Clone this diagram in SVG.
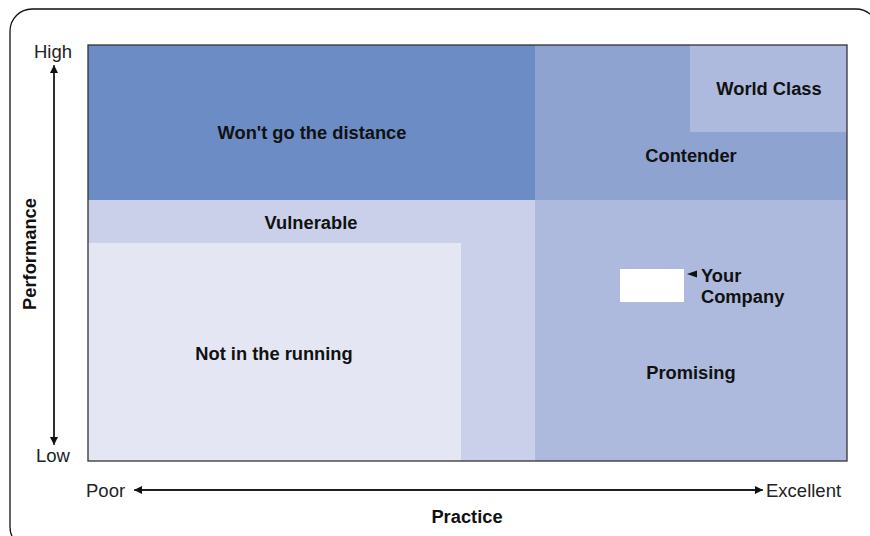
<svg xmlns="http://www.w3.org/2000/svg" width="870" height="536" viewBox="0 0 870 536">
<style>
.ax{font-family:"Liberation Sans",Arial,sans-serif;font-size:18.5px;fill:#222}
.lb{font-family:"Liberation Sans",Arial,sans-serif;font-size:18.3px;font-weight:bold;fill:#111}
.ln{stroke:#111;stroke-width:1.3;fill:none}
</style>
<defs>
<marker id="ah" viewBox="0 0 10 10" refX="10" refY="5" markerWidth="10" markerHeight="8" markerUnits="userSpaceOnUse" orient="auto">
<path d="M0,0 L10,5 L0,10 z" fill="#111"/>
</marker>
</defs>
<rect x="10" y="9" width="868" height="540" rx="22" fill="#fff" stroke="#111" stroke-width="1.3"/>
<g id="chart">
<rect x="88" y="45" width="759" height="416" fill="#CAD0E9"/>
<g id="wont"><rect x="88" y="45" width="447" height="155" fill="#6B8CC4"/><text class="lb" x="312" y="139" text-anchor="middle">Won't go the distance</text></g>
<g id="contender"><rect x="535" y="45" width="312" height="155" fill="#8FA3D0"/><text class="lb" x="691" y="162" text-anchor="middle">Contender</text></g>
<g id="worldclass"><rect x="690" y="45" width="157" height="87" fill="#ADBADD"/><text class="lb" x="769" y="95" text-anchor="middle">World Class</text></g>
<g id="vulnerable"><text class="lb" x="311" y="229" text-anchor="middle">Vulnerable</text></g>
<g id="notrunning"><rect x="88" y="243" width="373" height="218" fill="#E4E7F3"/><text class="lb" x="274" y="360" text-anchor="middle">Not in the running</text></g>
<g id="promising"><rect x="535" y="200" width="312" height="261" fill="#ADBADD"/><text class="lb" x="691" y="379" text-anchor="middle">Promising</text></g>
<g id="yourcompany"><rect x="620" y="269" width="64" height="33" fill="#fff"/><path d="M687,274 L697,270.5 L697,277.5 z" fill="#111"/><text class="lb" x="701" y="282">Your</text><text class="lb" x="701" y="303">Company</text></g>
<rect x="88" y="45" width="759" height="416" fill="none" stroke="#333" stroke-width="1.3"/>
</g>
<g id="connectors">
<line class="ln" x1="54" y1="443" x2="54" y2="65" marker-end="url(#ah)"/>
<line class="ln" x1="54" y1="70" x2="54" y2="445" marker-end="url(#ah)"/>
<line class="ln" x1="140" y1="490" x2="763" y2="490" marker-end="url(#ah)"/>
<line class="ln" x1="760" y1="490" x2="134" y2="490" marker-end="url(#ah)"/>
</g>
<g id="axislabels">
<text class="ax" x="53" y="58" text-anchor="middle">High</text>
<text class="ax" x="53" y="462" text-anchor="middle">Low</text>
<text class="ax" x="86" y="497">Poor</text>
<text class="ax" x="766" y="497">Excellent</text>
<text class="lb" x="467" y="523" text-anchor="middle">Practice</text>
<text class="lb" transform="translate(36,254) rotate(-90)" text-anchor="middle">Performance</text>
</g>
</svg>
